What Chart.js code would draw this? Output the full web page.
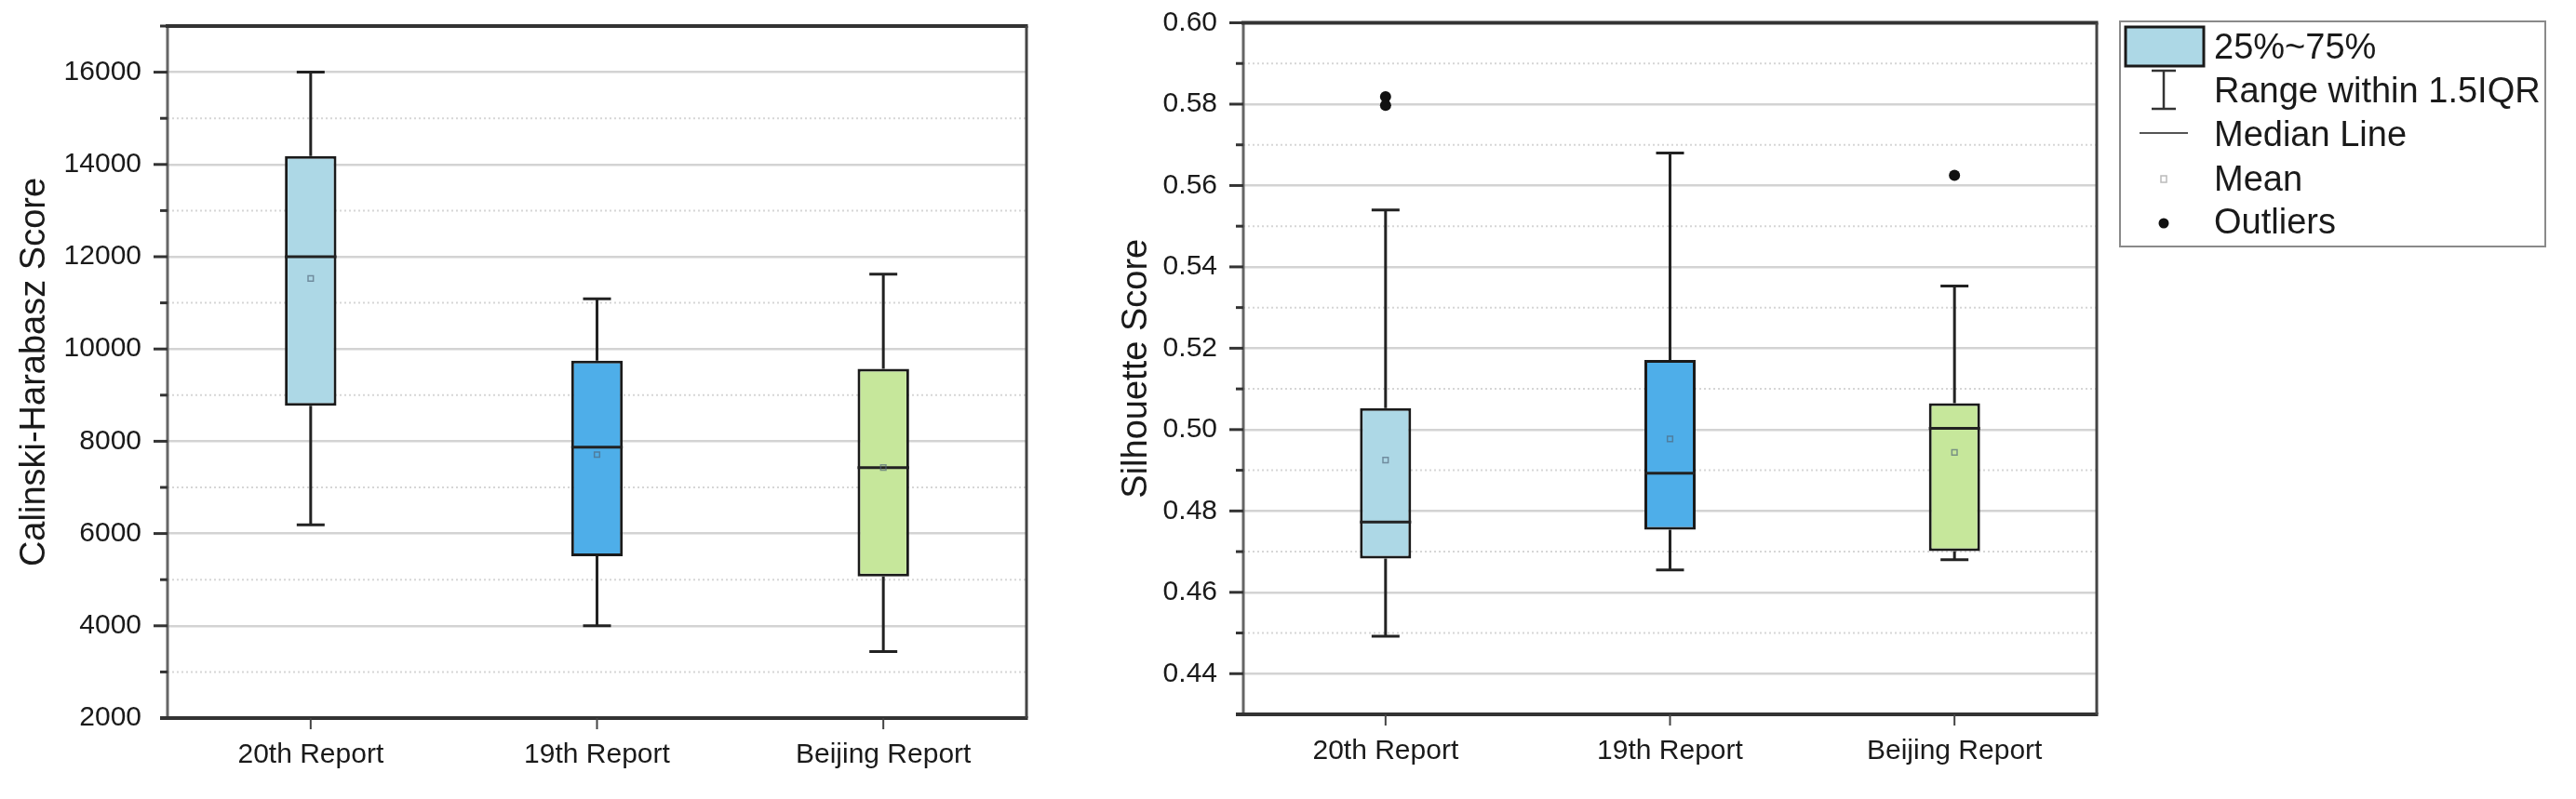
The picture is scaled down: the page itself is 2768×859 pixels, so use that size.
<!DOCTYPE html>
<html><head><meta charset="utf-8">
<script src="https://cdn.jsdelivr.net/npm/chart.js@4.4.1/dist/chart.umd.min.js"></script>
<style>
html,body{margin:0;padding:0;background:#fff;width:2768px;height:859px;overflow:hidden}
#left{position:absolute;left:0;top:0;width:1150px;height:859px}
#right{position:absolute;left:1150px;top:0;width:1618px;height:859px}
</style></head><body>
<div id="left"><canvas id="c1"></canvas></div>
<div id="right"><canvas id="c2"></canvas></div>
<script>
// ---------- data ----------
const categories = ['20th Report', '19th Report', 'Beijing Report'];
const boxColors = ['#ADD8E6', '#4EAEE9', '#C6E79B'];

// Calinski-Harabasz Score
const chMin    = [6190, 4000, 3440];
const chQ1     = [8770, 5510, 5070];
const chMedian = [12000, 7870, 7430];
const chQ3     = [14180, 9745, 9570];
const chMax    = [16000, 11090, 11620];
const chMean   = [11530, 7710, 7430];
const chOutliers = [[], [], []];

// Silhouette Score
const silMin    = [0.4492, 0.4655, 0.4680];
const silQ1     = [0.4683, 0.4754, 0.4701];
const silMedian = [0.4773, 0.4893, 0.5003];
const silQ3     = [0.5053, 0.5171, 0.5065];
const silMax    = [0.5540, 0.5680, 0.5353];
const silMean   = [0.4925, 0.4977, 0.4944];
const silOutliers = [[0.5818, 0.5797], [], [0.5625]];

const chTicksMajor = 2000;
const legendLabels = ['25%~75%', 'Range within 1.5IQR', 'Median Line', 'Mean', 'Outliers'];

// ---------- helpers ----------
Chart.defaults.font.family = "'Liberation Sans', Arial, sans-serif";
Chart.defaults.color = '#1a1a1a';
const FONT = "'Liberation Sans', Arial, sans-serif";

function boxPlugin(stats, isMajor, withLegend) {
  return {
    id: 'boxplot',
    beforeDatasetsDraw(chart) {
      const {ctx, chartArea: a, scales: {y}} = chart;
      ctx.save();
      ctx.strokeStyle = '#d6d6d6';
      ctx.lineWidth = 2;
      ctx.setLineDash([2, 3]);
      y.ticks.forEach(t => {
        if (isMajor(t.value)) return;
        const py = y.getPixelForValue(t.value);
        if (py > a.top + 3 && py < a.bottom - 3) {
          ctx.beginPath(); ctx.moveTo(a.left, py); ctx.lineTo(a.right, py); ctx.stroke();
        }
      });
      ctx.restore();
    },
    afterDatasetDraw(chart, args) {
      if (args.index !== 0) return;
      const {ctx, scales: {y}} = chart;
      const meta = args.meta;
      ctx.save();
      ctx.strokeStyle = '#222';
      ctx.lineWidth = 3;
      meta.data.forEach((el, i) => {
        const cx = el.x;
        const pMax = y.getPixelForValue(stats.max[i]);
        const pQ3 = y.getPixelForValue(stats.q3[i]);
        const pQ1 = y.getPixelForValue(stats.q1[i]);
        const pMin = y.getPixelForValue(stats.min[i]);
        const pMed = y.getPixelForValue(stats.median[i]);
        const cap = 15;
        ctx.beginPath();
        ctx.moveTo(cx, pMax); ctx.lineTo(cx, pQ3);
        ctx.moveTo(cx, pQ1); ctx.lineTo(cx, pMin);
        ctx.moveTo(cx - cap, pMax); ctx.lineTo(cx + cap, pMax);
        ctx.moveTo(cx - cap, pMin); ctx.lineTo(cx + cap, pMin);
        ctx.stroke();
        const hw = el.width / 2;
        ctx.beginPath();
        ctx.moveTo(cx - hw, pMed); ctx.lineTo(cx + hw, pMed);
        ctx.stroke();
      });
      ctx.restore();
    },
    afterDraw(chart) {
      const {ctx, chartArea: a, scales: {x, y}} = chart;
      ctx.save();
      // frame
      ctx.strokeStyle = '#666'; ctx.lineWidth = 3;
      ctx.beginPath(); ctx.moveTo(a.left, a.top); ctx.lineTo(a.left, a.bottom); ctx.stroke();
      ctx.strokeStyle = '#333'; ctx.lineWidth = 4;
      ctx.beginPath(); ctx.moveTo(a.left - 2, a.top); ctx.lineTo(a.right + 1.5, a.top); ctx.stroke();
      ctx.beginPath(); ctx.moveTo(a.left - 8, a.bottom); ctx.lineTo(a.right + 1.5, a.bottom); ctx.stroke();
      ctx.strokeStyle = '#444'; ctx.lineWidth = 3;
      ctx.beginPath(); ctx.moveTo(a.right, a.top); ctx.lineTo(a.right, a.bottom); ctx.stroke();
      // y ticks
      ctx.strokeStyle = '#333'; ctx.lineWidth = 3;
      y.ticks.forEach(t => {
        const py = y.getPixelForValue(t.value);
        if (py > a.bottom - 2) return;
        const len = isMajor(t.value) ? 15 : 8;
        ctx.beginPath(); ctx.moveTo(a.left - len, py); ctx.lineTo(a.left, py); ctx.stroke();
      });
      // x ticks
      ctx.strokeStyle = '#444'; ctx.lineWidth = 2;
      categories.forEach((c, i) => {
        const px = x.getPixelForValue(i);
        ctx.beginPath(); ctx.moveTo(px, a.bottom); ctx.lineTo(px, a.bottom + 12); ctx.stroke();
      });
      if (withLegend) {
        const lx = a.right + 25, ly = 23, lw = 457, lh = 242;
        ctx.strokeStyle = '#8a8a8a'; ctx.lineWidth = 2;
        ctx.strokeRect(lx, ly, lw, lh);
        const cx = lx + 47;
        // box swatch
        ctx.fillStyle = boxColors[0];
        ctx.fillRect(lx + 6, ly + 6, 84, 42);
        ctx.strokeStyle = '#1a1a1a'; ctx.lineWidth = 3;
        ctx.strokeRect(lx + 6, ly + 6, 84, 42);
        // whisker symbol
        ctx.strokeStyle = '#333'; ctx.lineWidth = 2.5;
        ctx.beginPath();
        ctx.moveTo(cx, ly + 53); ctx.lineTo(cx, ly + 94);
        ctx.moveTo(cx - 13, ly + 53); ctx.lineTo(cx + 13, ly + 53);
        ctx.moveTo(cx - 13, ly + 94); ctx.lineTo(cx + 13, ly + 94);
        ctx.stroke();
        // median line
        ctx.strokeStyle = '#555'; ctx.lineWidth = 2;
        ctx.beginPath(); ctx.moveTo(cx - 26, ly + 120); ctx.lineTo(cx + 26, ly + 120); ctx.stroke();
        // mean
        ctx.strokeStyle = '#bbb'; ctx.lineWidth = 1.5;
        ctx.strokeRect(cx - 3, ly + 166, 6, 7);
        // outlier
        ctx.fillStyle = '#111';
        ctx.beginPath(); ctx.arc(cx, ly + 217, 5.5, 0, Math.PI * 2); ctx.fill();
        // texts
        ctx.fillStyle = '#1a1a1a';
        ctx.font = '38px ' + FONT;
        ctx.textBaseline = 'middle';
        ctx.textAlign = 'left';
        const ys = [30, 77, 124, 172, 218];
        legendLabels.forEach((t, i) => ctx.fillText(t, lx + 101, ly + ys[i]));
      }
      ctx.restore();
    }
  };
}

function makeChart(canvasId, cfg) {
  const stats = cfg.stats;
  const outlierPts = [];
  cfg.outliers.forEach((arr, i) => arr.forEach(v => outlierPts.push({x: categories[i], y: v})));
  return new Chart(document.getElementById(canvasId), {
    type: 'bar',
    data: {
      labels: categories,
      datasets: [
        {
          type: 'bar', label: '25%~75%',
          data: categories.map((c, i) => [stats.q1[i], stats.q3[i]]),
          backgroundColor: boxColors, borderColor: '#1a1a1a', borderWidth: 3,
          borderSkipped: false, barPercentage: 0.18, categoryPercentage: 1, order: 10
        },
        {
          type: 'scatter', label: 'Mean',
          data: categories.map((c, i) => ({x: c, y: stats.mean[i]})),
          pointStyle: 'rect', pointRadius: 4, borderWidth: 1.5,
          borderColor: 'rgba(80,100,120,0.65)', backgroundColor: 'rgba(0,0,0,0)', order: 2
        },
        {
          type: 'scatter', label: 'Outliers', data: outlierPts,
          pointStyle: 'circle', pointRadius: 6, borderWidth: 0,
          backgroundColor: '#111', borderColor: '#111', order: 1
        }
      ]
    },
    options: {
      responsive: true, maintainAspectRatio: false, animation: false,
      events: [],
      layout: {padding: {left: 0, top: cfg.top, right: cfg.right, bottom: 0}},
      plugins: {legend: {display: false}, tooltip: {enabled: false}},
      scales: {
        x: {
          type: 'category', offset: true,
          grid: {display: false, drawTicks: false},
          border: {display: false},
          ticks: {padding: 22, color: '#1a1a1a', font: {size: 30}},
          afterFit(s) { s.height = cfg.xHeight; }
        },
        y: {
          type: 'linear', min: cfg.min, max: cfg.max,
          grid: {
            drawTicks: true, tickLength: 28, tickColor: 'rgba(0,0,0,0)',
            color: ctx => (cfg.isMajor(ctx.tick.value) ? '#d3d3d3' : 'rgba(0,0,0,0)'),
            lineWidth: 2.5
          },
          border: {display: false},
          ticks: {
            stepSize: cfg.step, padding: 0, color: '#1a1a1a', font: {size: 30},
            autoSkip: false,
            callback: v => (cfg.isMajor(v) ? cfg.fmt(v) : '')
          },
          title: {display: true, text: cfg.title, font: {size: 38}, color: '#1a1a1a',
                  padding: {top: cfg.titlePad, bottom: 0}},
          afterFit(s) { s.width = cfg.yWidth; }
        }
      }
    },
    plugins: [boxPlugin(stats, cfg.isMajor, cfg.legend)]
  });
}

makeChart('c1', {
  stats: {min: chMin, q1: chQ1, median: chMedian, q3: chQ3, max: chMax, mean: chMean},
  outliers: chOutliers,
  min: 2000, max: 17000, step: 1000,
  isMajor: v => Math.round(v) % chTicksMajor === 0,
  fmt: v => String(Math.round(v)),
  title: 'Calinski-Harabasz Score', titlePad: 15,
  top: 28, right: 1150 - 1103, xHeight: 859 - 772, yWidth: 180, legend: false
});

makeChart('c2', {
  stats: {min: silMin, q1: silQ1, median: silMedian, q3: silQ3, max: silMax, mean: silMean},
  outliers: silOutliers,
  min: 0.43, max: 0.60, step: 0.01,
  isMajor: v => Math.round(v * 100) % 2 === 0,
  fmt: v => v.toFixed(2),
  title: 'Silhouette Score', titlePad: 49,
  top: 24.5, right: 1618 - 1103, xHeight: 859 - 768, yWidth: 186, legend: true
});
</script>
</body></html>
